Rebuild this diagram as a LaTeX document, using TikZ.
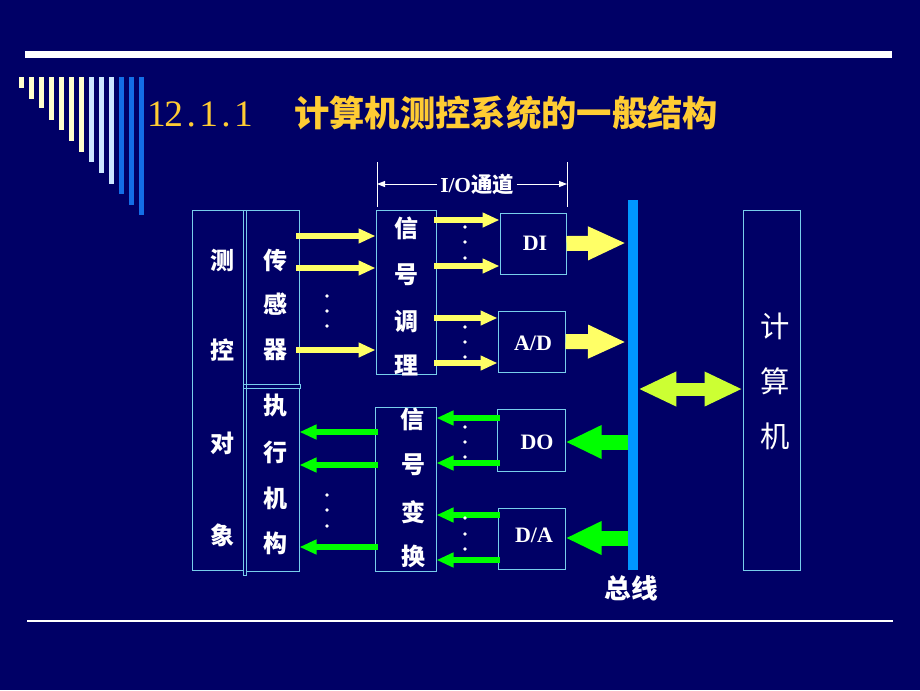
\documentclass[tikz,border=0pt]{standalone}
\usepackage{fontspec}
\setmainfont{Liberation Serif}
\newfontfamily\cjk{Noto Sans CJK SC}
\usetikzlibrary{arrows.meta,fit,calc}
\definecolor{bg}{RGB}{0,0,102}
\definecolor{boxline}{RGB}{120,205,235}
\definecolor{cream}{RGB}{255,255,204}
\definecolor{paleblue}{RGB}{204,230,255}
\definecolor{midblue}{RGB}{20,110,230}
\definecolor{gold}{RGB}{255,204,51}
\definecolor{yel}{RGB}{255,255,102}
\definecolor{grn}{RGB}{0,255,0}
\definecolor{lime}{RGB}{204,255,51}
\definecolor{busblue}{RGB}{0,150,255}
\begin{document}
\begin{tikzpicture}[x=0.75pt,y=-0.75pt,
  box/.style={draw=boxline,line width=0.75pt,inner sep=0pt},
  zh/.style={text=white,font=\cjk\bfseries\fontsize{18}{18}\selectfont,inner sep=0pt},
  zhbig/.style={text=white,font=\cjk\fontsize{22}{22}\selectfont,inner sep=0pt},
  lat/.style={text=white,font=\bfseries\fontsize{16.5}{16.5}\selectfont,inner sep=0pt},
  sarr/.style={yel,line width=4.5pt,-{Triangle[length=12.75pt,width=10.5pt]}},
  garr/.style={grn,line width=4.5pt,-{Triangle[length=12.75pt,width=10.5pt]}},
  bigy/.style={yel,line width=11.25pt,-{Triangle[length=28.5pt,width=23.25pt]}},
  bigg/.style={grn,line width=11.25pt,-{Triangle[length=27pt,width=23.25pt]}},
  dbl/.style={lime,line width=9.75pt,{Triangle[length=28.5pt,width=24pt]}-{Triangle[length=28.5pt,width=24pt]}},
  iotip/.style={white,line width=0.75pt,-{Triangle[length=6pt,width=4.5pt]}}
]
\fill[bg] (0,0) rectangle (920,690);
\useasboundingbox (0,0) rectangle (920,690);

% decorations
\fill[white] (25,51) rectangle (892,58);
\draw[white,line width=1.2pt] (27,621) -- (893,621);
\foreach \i/\b in {0/88,1/99,2/108,3/120,4/130,5/141,6/152}
  \fill[cream] ({19+10*\i},77) rectangle ({23.5+10*\i},\b);
\foreach \i/\b in {7/162,8/173,9/184}
  \fill[paleblue] ({19+10*\i},77) rectangle ({23.5+10*\i},\b);
\foreach \i/\b in {10/194,11/205,12/215}
  \fill[midblue] ({19+10*\i},77) rectangle ({23.5+10*\i},\b);

% title
\foreach \c [count=\k] in {1,2,.,1,.,1}
  \node[text=gold,font=\fontsize{28}{28}\selectfont,inner sep=0pt,anchor=base] (tn\k) at ({139+17.4*\k},126) {\c};
\node[text=gold,font=\cjk\bfseries\fontsize{26.5}{26.5}\selectfont,inner sep=0pt,anchor=west] (title) at (294,113) {计算机测控系统的一般结构};

% boxes
\node[box,fit={(192,210) (243,570)}] (obj) {};
\draw[boxline,line width=0.75pt] (243,210) rectangle (246,575);
\node[box,fit={(246,210) (299,384)}] (sens) {};
\draw[boxline,line width=0.75pt] (243,384) rectangle (300,388);
\node[box,fit={(246,388) (299,571)}] (act) {};
\node[box,fit={(376,210) (436,374)}] (cond) {};
\node[box,fit={(500,213) (566,274)}] (di) {};
\node[box,fit={(498,311) (565,372)}] (ad) {};
\node[box,fit={(375,407) (436,571)}] (conv) {};
\node[box,fit={(497,409) (565,471)}] (do) {};
\node[box,fit={(498,508) (565,569)}] (da) {};
\node[fill=busblue,inner sep=0pt,fit={(628,200) (638,570)}] (bus) {};
\node[box,fit={(743,210) (800,570)}] (comp) {};

% texts
\node[zh] (o1) at (222,260) {测};
\node[zh] (o2) at (222,350) {控};
\node[zh] (o3) at (222,443) {对};
\node[zh] (o4) at (222,535) {象};
\node[zh] (s1) at (275,260) {传};
\node[zh] (s2) at (275,304) {感};
\node[zh] (s3) at (275,350) {器};
\node[zh] (a1) at (275,405) {执};
\node[zh] (a2) at (275,452) {行};
\node[zh] (a3) at (275,498) {机};
\node[zh] (a4) at (275,543) {构};
\node[zh] (c1) at (406,228) {信};
\node[zh] (c2) at (406,275) {号};
\node[zh] (c3) at (406,321) {调};
\node[zh] (c4) at (406,365) {理};
\node[zh] (v1) at (412,419) {信};
\node[zh] (v2) at (413,465) {号};
\node[zh] (v3) at (413,512) {变};
\node[zh] (v4) at (413,556) {换};
\node[lat] (tdi) at (535,243) {DI};
\node[lat] (tad) at (533,343) {A/D};
\node[lat] (tdo) at (537,442) {DO};
\node[lat] (tda) at (534,535) {D/A};
\node[zhbig] (k1) at (775,326) {计};
\node[zhbig] (k2) at (775,381) {算};
\node[zhbig] (k3) at (775,436) {机};
\node[text=white,font=\cjk\bfseries\fontsize{20}{20}\selectfont,inner sep=0pt] (busl) at (631,588) {总线};

% I/O label
\coordinate (ioLt) at (377,162); \coordinate (ioLb) at (377,207);
\coordinate (ioRt) at (567,162); \coordinate (ioRb) at (567,207);
\draw[white,line width=0.75pt] (ioLt) -- (ioLb) (ioRt) -- (ioRb);
\node[text=white,font=\bfseries\fontsize{16}{16}\selectfont,inner sep=2pt] (io) at (477,184) {I/O{\cjk 通道}};
\draw[iotip] (io.west) -- (ioLt |- io.west);
\draw[iotip] (io.east) -- (ioRt |- io.east);

% small yellow arrows
\foreach \y in {236,268,350} \draw[sarr] (296,\y) -- (cond.west |- 0,\y);
\foreach \y in {220,266} \draw[sarr] (434,\y) -- (di.west |- 0,\y);
\foreach \y in {318,363} \draw[sarr] (434,\y) -- (ad.west |- 0,\y);
% small green arrows
\foreach \y in {432,465,547} \draw[garr] (378,\y) -- (act.east |- 0,\y);
\foreach \y in {418,463} \draw[garr] (500,\y) -- (conv.east |- 0,\y);
\foreach \y in {515,560} \draw[garr] (500,\y) -- (conv.east |- 0,\y);

% dots
\foreach \y in {296,311,326,495,510,526} \fill[white] (327,\y) circle (1.8);
\foreach \y in {227,242,258,327,342,357,427,442,457,518,534,549} \fill[white] (465,\y) circle (1.8);

% big arrows
\draw[bigy] (di.east) -- (626,243);
\draw[bigy] (ad.east) -- (626,342);
\draw[bigg] (bus.west |- 0,442) -- (do.east |- 0,442);
\draw[bigg] (bus.west |- 0,538) -- (da.east |- 0,538);
\draw[dbl] (bus.east |- 0,389) -- (comp.west |- 0,389);
\end{tikzpicture}
\end{document}
